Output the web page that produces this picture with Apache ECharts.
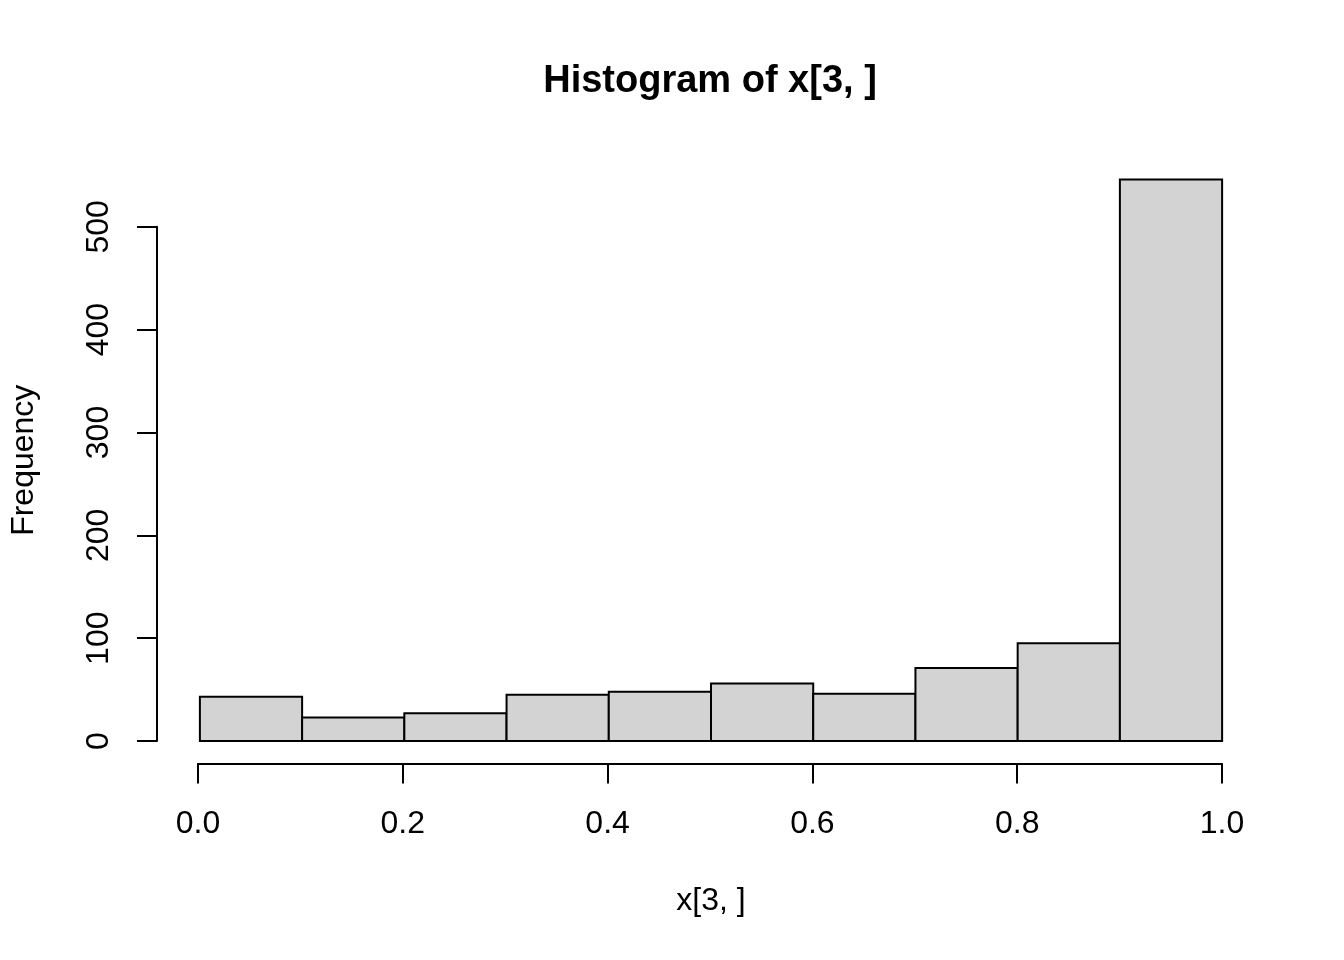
<!DOCTYPE html>
<html>
<head>
<meta charset="utf-8">
<title>Histogram of x[3, ]</title>
<script src="https://cdn.jsdelivr.net/npm/echarts@6/dist/echarts.min.js"></script>
<style>
  html, body { margin: 0; padding: 0; background: #fff; }
  #main { width: 1344px; height: 960px; }
</style>
</head>
<body>
<div id="main"></div>
<script>
// histogram bins and counts
const breaks = [0.0, 0.1, 0.2, 0.3, 0.4, 0.5, 0.6, 0.7, 0.8, 0.9, 1.0];
const counts = [43, 23, 27, 45, 48, 56, 46, 71, 95, 546];
const xTicks = [0.0, 0.2, 0.4, 0.6, 0.8, 1.0];
const yTicks = [0, 100, 200, 300, 400, 500];

window.addEventListener('load', function () {
    const W = 1344, H = 960;
    const font = '"Liberation Sans", Arial, Helvetica, sans-serif';
    // plot region (like R's par("plt")), axes extended 4% as R does
    const plot = { left: 157, right: 1263, top: 157, bottom: 763.5 };
    const xr = breaks[breaks.length - 1] - breaks[0];
    const xLo = breaks[0] - 0.04 * xr, xHi = breaks[breaks.length - 1] + 0.04 * xr;
    const yMax = Math.max.apply(null, counts);
    const yLo = -0.04 * yMax, yHi = 1.04 * yMax;

    const pxX = v => plot.left + (v - xLo) / (xHi - xLo) * (plot.right - plot.left);
    const pxY = v => plot.bottom - (v - yLo) / (yHi - yLo) * (plot.bottom - plot.top);

    const bars = counts.map((c, i) => [breaks[i], breaks[i + 1], c]);

    const chart = echarts.init(document.getElementById('main'));
    const option = {
        backgroundColor: '#ffffff',
        animation: false,
        title: {
            text: 'Histogram of x[3, ]',
            left: (plot.left + plot.right) / 2,
            textAlign: 'center',
            top: 63,
            padding: 0,
            textStyle: { fontFamily: font, fontSize: 38, fontWeight: 'bold', color: '#000' }
        },
        grid: [
            // main plot region
            { left: plot.left, right: W - plot.right, top: plot.top, bottom: H - plot.bottom },
            // x axis drawn only across the tick range
            { left: pxX(xTicks[0]), right: W - pxX(xTicks[xTicks.length - 1]), top: plot.top, bottom: H - plot.bottom },
            // y axis drawn only across the tick range
            { left: plot.left, right: W - plot.right, top: pxY(yTicks[yTicks.length - 1]), bottom: H - pxY(yTicks[0]) }
        ],
        xAxis: [
            {
                gridIndex: 0, type: 'value', min: xLo, max: xHi,
                axisLine: { show: false }, axisTick: { show: false },
                axisLabel: { show: false }, splitLine: { show: false },
                name: 'x[3, ]', nameLocation: 'middle', nameGap: 122,
                nameTextStyle: { fontFamily: font, fontSize: 32, color: '#000' }
            },
            {
                gridIndex: 1, type: 'value', min: 0, max: 1, interval: 0.2,
                axisLine: { show: true, onZero: false, lineStyle: { color: '#000', width: 2 } },
                axisTick: { show: true, length: 20, lineStyle: { color: '#000', width: 2 } },
                axisLabel: {
                    margin: 45, fontFamily: font, fontSize: 32, color: '#000',
                    formatter: v => v.toFixed(1)
                },
                splitLine: { show: false }
            },
            {
                gridIndex: 2, type: 'value', min: xLo, max: xHi, show: false
            }
        ],
        yAxis: [
            {
                gridIndex: 0, type: 'value', min: yLo, max: yHi,
                axisLine: { show: false }, axisTick: { show: false },
                axisLabel: { show: false }, splitLine: { show: false },
                name: 'Frequency', nameLocation: 'middle', nameGap: 119,
                nameTextStyle: { fontFamily: font, fontSize: 32, color: '#000' }
            },
            {
                gridIndex: 1, type: 'value', min: yLo, max: yHi, show: false
            },
            {
                gridIndex: 2, type: 'value', min: 0, max: 500, interval: 100,
                axisLine: { show: true, onZero: false, lineStyle: { color: '#000', width: 2 } },
                axisTick: { show: true, length: 20, lineStyle: { color: '#000', width: 2 } },
                axisLabel: { margin: 42, rotate: 90, fontFamily: font, fontSize: 32, color: '#000' },
                splitLine: { show: false }
            }
        ],
        series: [{
            type: 'custom',
            xAxisIndex: 0,
            yAxisIndex: 0,
            data: bars,
            renderItem: function (params, api) {
                const p0 = api.coord([api.value(0), 0]);
                const p1 = api.coord([api.value(1), api.value(2)]);
                return {
                    type: 'rect',
                    shape: { x: p0[0], y: p1[1], width: p1[0] - p0[0], height: p0[1] - p1[1] },
                    style: { fill: '#d3d3d3', stroke: '#000', lineWidth: 2 }
                };
            }
        }]
    };
    chart.setOption(option);
});
</script>
</body>
</html>
